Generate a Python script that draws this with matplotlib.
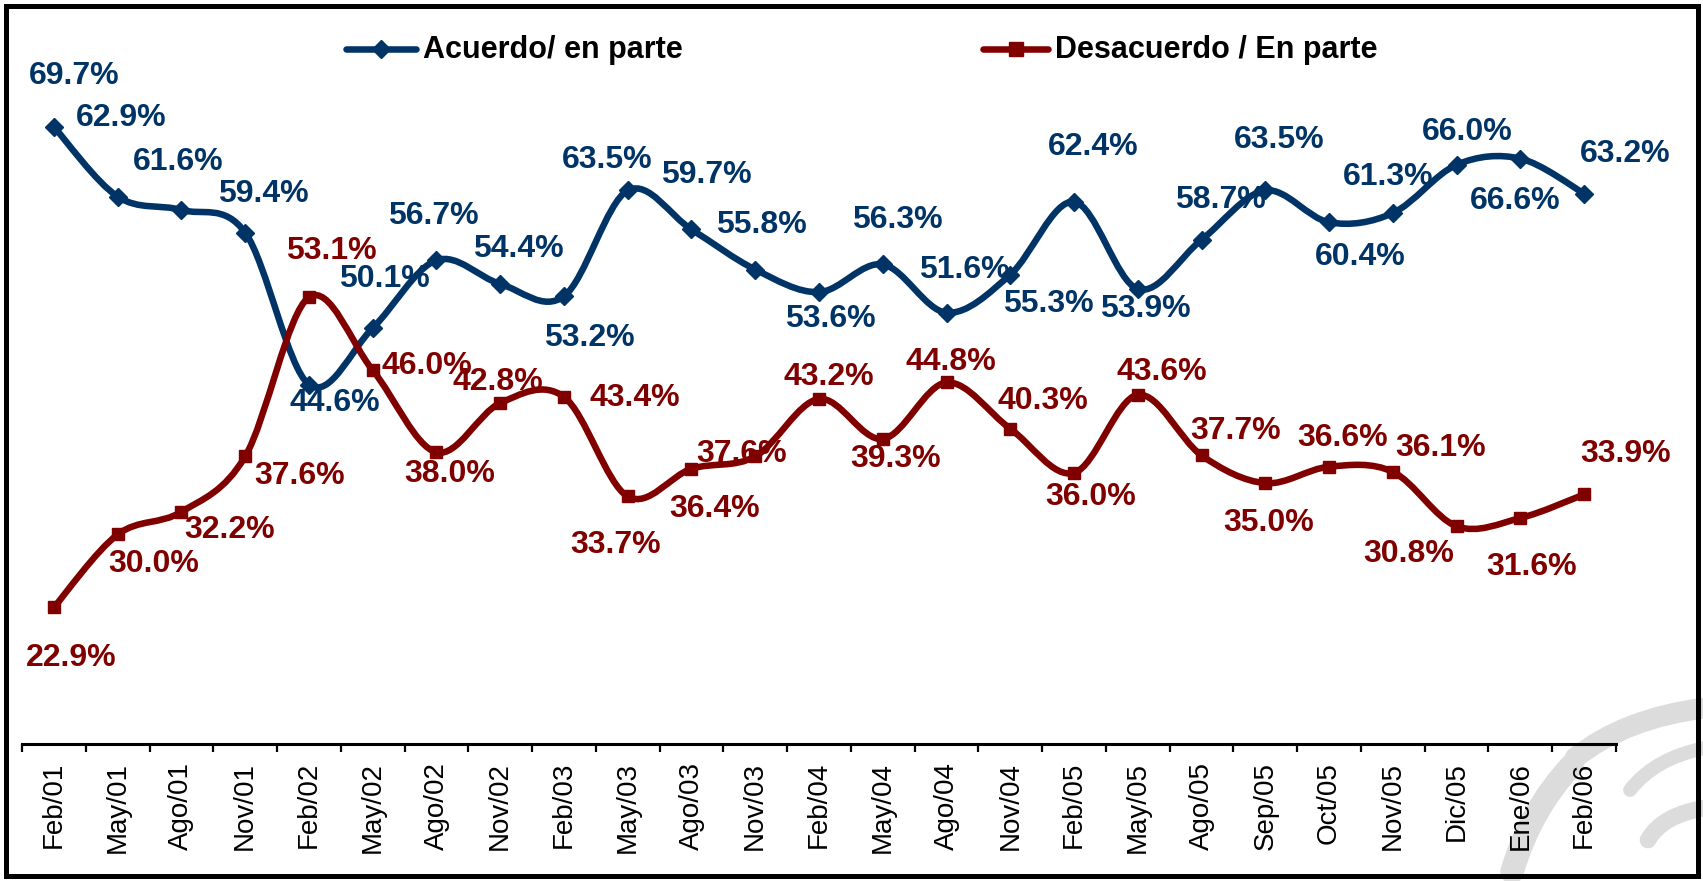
import numpy as np
import matplotlib
matplotlib.use("Agg")
import matplotlib.pyplot as plt
from matplotlib.path import Path
from matplotlib.patches import PathPatch, Rectangle
from matplotlib.lines import Line2D

plt.rcParams['font.family'] = ['Liberation Sans', 'DejaVu Sans']

periodos = ['Feb/01', 'May/01', 'Ago/01', 'Nov/01', 'Feb/02', 'May/02', 'Ago/02',
            'Nov/02', 'Feb/03', 'May/03', 'Ago/03', 'Nov/03', 'Feb/04', 'May/04',
            'Ago/04', 'Nov/04', 'Feb/05', 'May/05', 'Ago/05', 'Sep/05', 'Oct/05',
            'Nov/05', 'Dic/05', 'Ene/06', 'Feb/06']

acuerdo = [69.7, 62.9, 61.6, 59.4, 44.6, 50.1, 56.7, 54.4, 53.2, 63.5, 59.7, 55.8,
           53.6, 56.3, 51.6, 55.3, 62.4, 53.9, 58.7, 63.5, 60.4, 61.3, 66.0, 66.6, 63.2]

desacuerdo = [22.9, 30.0, 32.2, 37.6, 53.1, 46.0, 38.0, 42.8, 43.4, 33.7, 36.4, 37.6,
              43.2, 39.3, 44.8, 40.3, 36.0, 43.6, 37.7, 35.0, 36.6, 36.1, 30.8, 31.6, 33.9]

# label offsets in pixels (x right, y down) from each marker
off_acuerdo = [(20, -51), (4, -79), (-3, -48), (18, -39), (26, 18), (12, -49), (-3, -44),
               (18, -35), (25, 42), (-21, -30), (15, -54), (6, -45), (11, 27), (15, -44),
               (18, -43), (38, 29), (19, -55), (8, 20), (19, -40), (14, -50), (31, 35),
               (-5, -36), (11, -33), (-5, 42), (41, -40)]
off_desacuerdo = [(17, 51), (36, 30), (48, 18), (54, 20), (22, -46), (54, -4), (13, 22),
                  (-2, -21), (71, 1), (-12, 49), (23, 40), (-14, -2), (10, -22), (13, 20),
                  (4, -21), (33, -28), (17, 24), (24, -23), (34, -24), (3, 40), (14, -29),
                  (48, -24), (-48, 28), (11, 49), (41, -40)]

AZUL = '#003366'
ROJO = '#800000'
W, H = 1703, 881


def smooth_path(xs, ys):
    # bezier path through the points, like a smoothed spreadsheet line
    n = len(xs)
    verts = [(xs[0], ys[0])]
    codes = [Path.MOVETO]
    for i in range(n - 1):
        xa, ya = (xs[i - 1], ys[i - 1]) if i > 0 else (xs[i], ys[i])
        xb, yb = (xs[i + 2], ys[i + 2]) if i + 2 < n else (xs[i + 1], ys[i + 1])
        c1 = (xs[i] + (xs[i + 1] - xa) / 6, ys[i] + (ys[i + 1] - ya) / 6)
        c2 = (xs[i + 1] - (xb - xs[i]) / 6, ys[i + 1] - (yb - ys[i]) / 6)
        verts += [c1, c2, (xs[i + 1], ys[i + 1])]
        codes += [Path.CURVE4] * 3
    return Path(verts, codes)


fig = plt.figure(figsize=(W / 100, H / 100), dpi=100)

# background layer in pixel coordinates: faint logo and outer frame
bg = fig.add_axes([0, 0, 1, 1], zorder=0)
bg.set_xlim(0, W)
bg.set_ylim(H, 0)
bg.axis('off')
gris = '#dcdcdc'
trazos = [
    ([(1575, 758), (1625, 718), (1705, 708)], 15),
    ([(1572, 765), (1530, 810), (1512, 872)], 17),
    ([(1630, 790), (1655, 758), (1705, 748)], 10),
    ([(1648, 840), (1662, 815), (1705, 808)], 12),
]
for pts, lw in trazos:
    p = Path(pts, [Path.MOVETO, Path.CURVE3, Path.CURVE3])
    bg.add_patch(PathPatch(p, fill=False, edgecolor=gris, lw=lw, capstyle='round'))
bg.add_patch(Rectangle((5.5, 5.5), W - 11, H - 11, fill=False, edgecolor='black', lw=3.6))

ax = fig.add_axes([22 / W, 1 - 744 / H, (1616 - 22) / W, (744 - 21) / H], zorder=1)
ax.patch.set_alpha(0)
x = np.arange(len(periodos))
ax.set_xlim(-0.5, len(periodos) - 0.5)
ax.set_ylim(9.6, 80)

for vals, col, mk, ms, offs in [(acuerdo, AZUL, 'D', 9.5, off_acuerdo),
                                (desacuerdo, ROJO, 's', 9, off_desacuerdo)]:
    ax.add_patch(PathPatch(smooth_path(x, vals), fill=False, edgecolor=col, lw=4.7,
                           capstyle='round', joinstyle='round', zorder=3))
    ax.plot(x, vals, ls='none', marker=mk, ms=ms, color=col, zorder=4)
    for xi, v, (dx, dy) in zip(x, vals, offs):
        ax.annotate(f'{v:.1f}%', (xi, v), xytext=(dx, -dy), textcoords='offset pixels',
                    ha='center', va='center', fontsize=23, fontweight='bold', color=col,
                    zorder=5)

for s in ['left', 'right', 'top']:
    ax.spines[s].set_visible(False)
ax.spines['bottom'].set_linewidth(2.2)
ax.set_yticks([])
ax.set_xticks(x)
ax.set_xticklabels(periodos, rotation=90, fontsize=20)
ax.set_xticks(np.arange(len(periodos) + 1) - 0.5, minor=True)
ax.tick_params(axis='x', which='major', length=0, pad=13)
ax.tick_params(axis='x', which='minor', length=6, width=1.6, direction='out')

# legend drawn by hand along the top
for x0, x1, col, mk, txt in [(346, 416, AZUL, 'D', 'Acuerdo/ en parte'),
                             (983, 1048, ROJO, 's', 'Desacuerdo / En parte')]:
    bg.add_line(Line2D([x0, x1], [49, 49], color=col, lw=4.7, solid_capstyle='round'))
    bg.plot([(x0 + x1) / 2], [49], marker=mk, ms=9.5, color=col)
    bg.text(x1 + 7, 50, txt, ha='left', va='center', fontsize=22, fontweight='bold',
            color='black')

fig.savefig('out.png', dpi=100)
